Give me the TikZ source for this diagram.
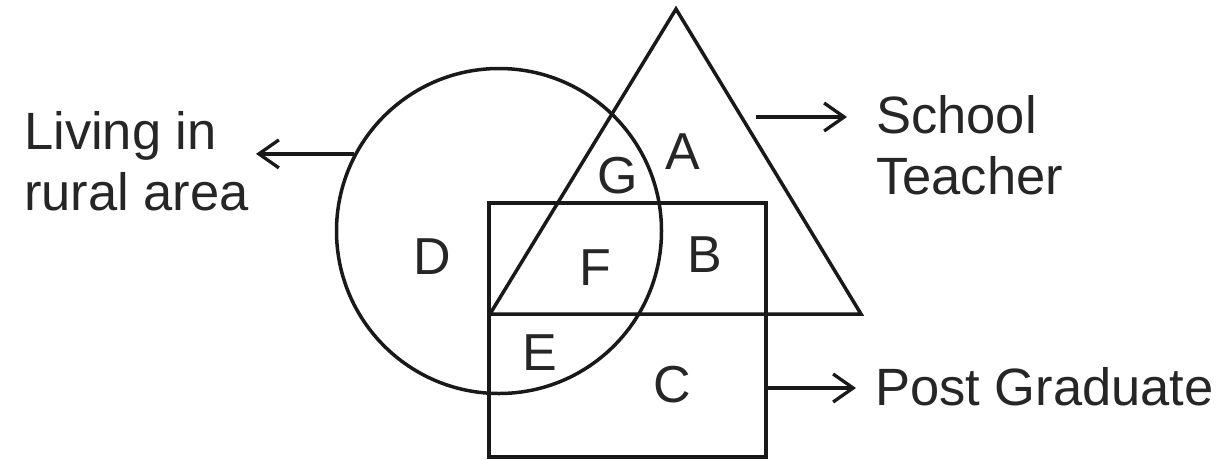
\documentclass[tikz,border=0pt]{standalone}
\usepackage{fontspec}
\setmainfont{Liberation Sans}
\usetikzlibrary{arrows.meta}
\begin{document}
\begin{tikzpicture}[x=1pt,y=-1pt,
  shapeline/.style={line width=3.5pt, draw=black!90},
  pointer/.style={line width=3.3pt, draw=black!90, -{Straight Barb[length=20pt,width=28pt,line width=3.3pt]}},
  lbl/.style={inner sep=0pt, font=\fontsize{52.5}{61}\selectfont, text=black!85},
  region/.style={inner sep=0pt, font=\fontsize{52}{61}\selectfont, text=black!85}]
\useasboundingbox (0,0) rectangle (1231,459);
% sets
\node[shapeline, circle, minimum size=325pt, inner sep=0pt] (rural) at (499,231) {};
\coordinate (tA) at (676,9);
\coordinate (tB) at (490,314);
\coordinate (tC) at (861,314);
\draw[shapeline, line join=miter] (tA) -- (tB) -- (tC) -- cycle;
\node[shapeline, rectangle, minimum width=277pt, minimum height=254pt, inner sep=0pt] (pg) at (627.5,330) {};
% region labels
\node[region] (A) at (683,152) {A};
\node[region] (G) at (618,176) {G};
\node[region] (D) at (432,257) {D};
\node[region] (F) at (595,268) {F};
\node[region] (B) at (705,255) {B};
\node[region] (E) at (540,353) {E};
\node[region] (C) at (672,385) {C};
% outer labels
\node[lbl, anchor=west, align=left] (living) at (24,161) {Living in\\rural area};
\node[lbl, anchor=west, align=left] (teacher) at (876,145) {School\\Teacher};
\node[lbl, anchor=base west] (postgrad) at (875,405) {Post Graduate};
% pointers
\coordinate (lstart) at (rural.152.5);
\coordinate (lend) at (256,0 |- lstart);
\draw[pointer] (lstart) -- (lend);
\coordinate (sstart) at (756,117);
\coordinate (send) at (847,117);
\draw[pointer] (sstart) -- (send);
\coordinate (pstart) at (pg.east |- 0,388);
\coordinate (pend) at (856,388);
\draw[pointer] (pstart) -- (pend);
\end{tikzpicture}
\end{document}
